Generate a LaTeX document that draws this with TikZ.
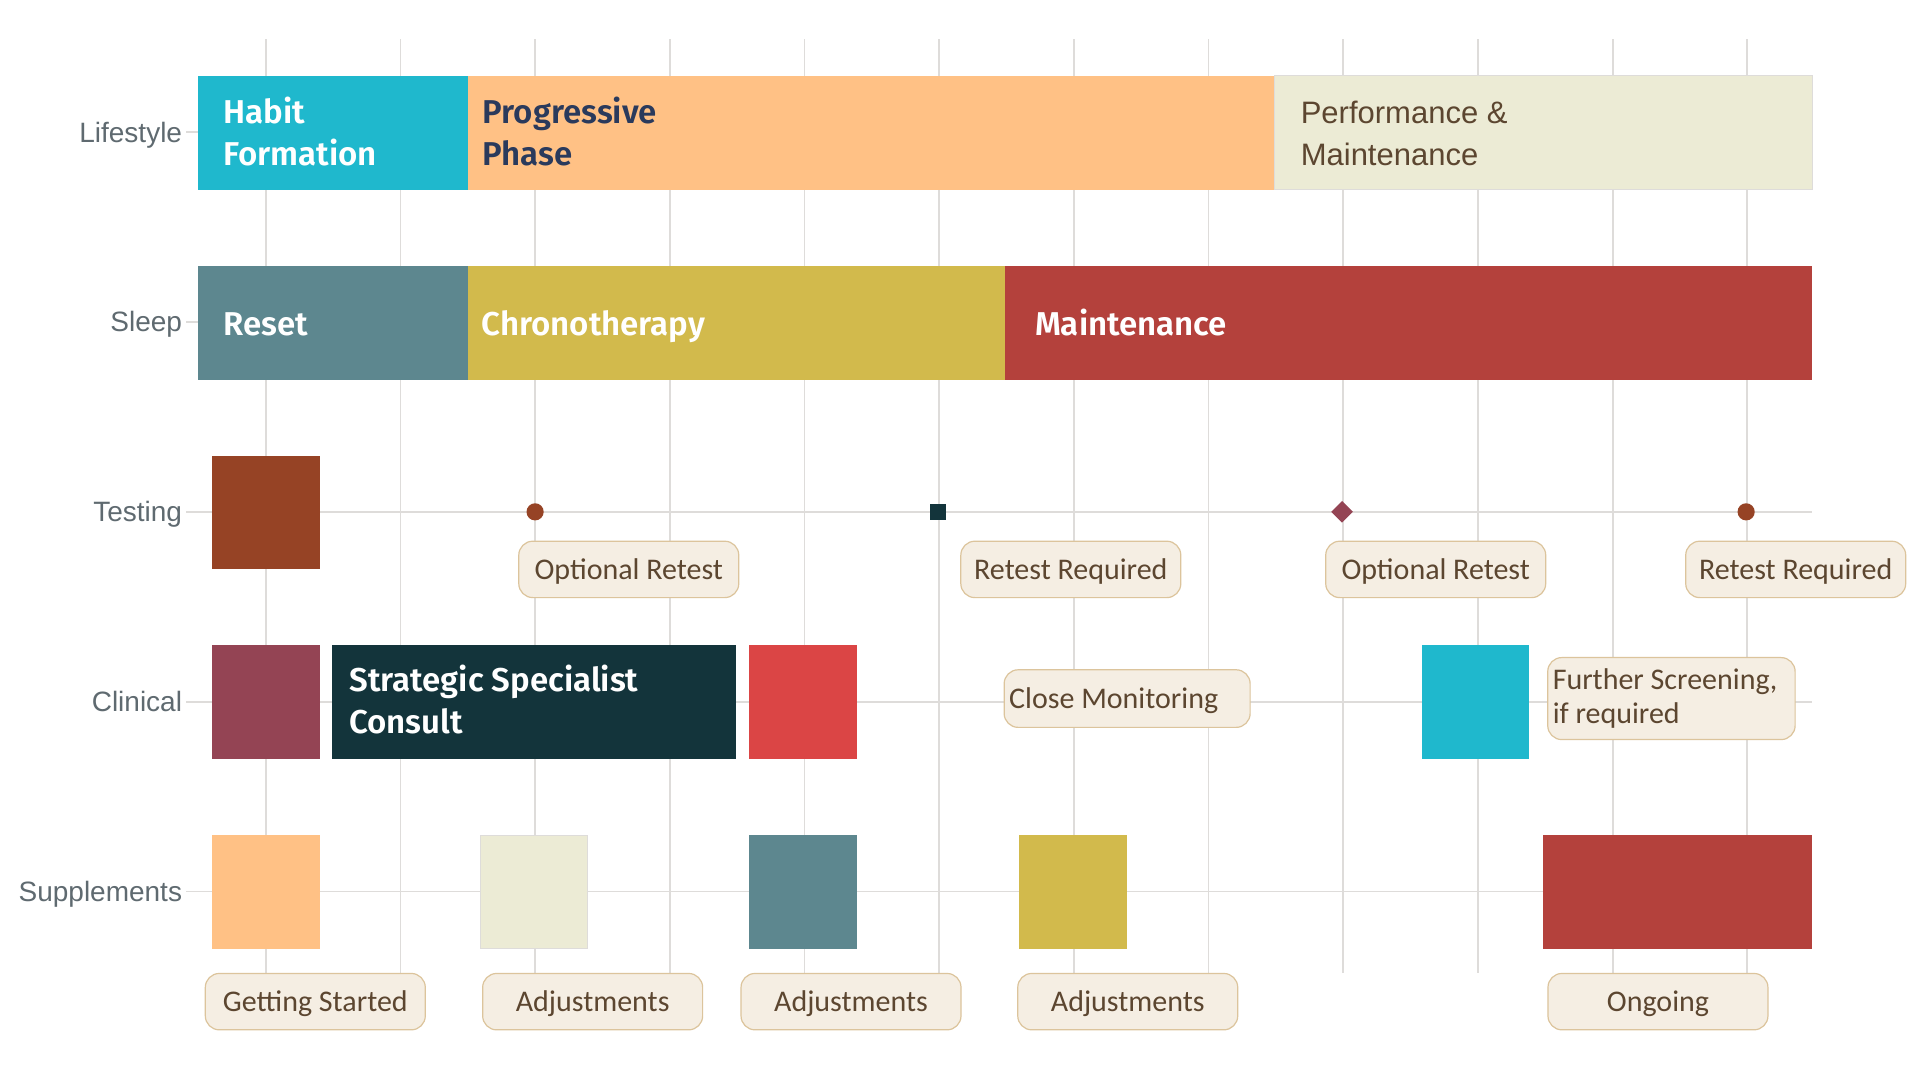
\documentclass[tikz,border=0pt]{standalone}
\usepackage{fontspec}
\setmainfont{Carlito}
\newfontfamily\barfont{Fira Sans}[BoldFont={Fira Sans SemiBold}]
\newfontfamily\axisfont{Liberation Sans}
\usetikzlibrary{shapes.geometric}
\definecolor{cteal}{HTML}{1FB8CD}
\definecolor{cpeach}{HTML}{FFC185}
\definecolor{ccream}{HTML}{ECEBD5}
\definecolor{cslate}{HTML}{5D878F}
\definecolor{cmustard}{HTML}{D2BA4C}
\definecolor{cred}{HTML}{B4413C}
\definecolor{cbrown}{HTML}{964325}
\definecolor{cmaroon}{HTML}{944454}
\definecolor{cdark}{HTML}{13343B}
\definecolor{ccoral}{HTML}{DB4545}
\definecolor{cgrid}{HTML}{DEDCDA}
\definecolor{caxis}{HTML}{5F6A70}
\definecolor{cnavy}{HTML}{2A3A5C}
\definecolor{clbltext}{HTML}{5C4630}
\definecolor{clblfill}{HTML}{F5EEE3}
\definecolor{clbldraw}{HTML}{DCC49C}
\tikzset{
  gridline/.style={draw=cgrid, line width=0.9pt},
  rowlab/.style={anchor=base east, inner sep=0pt, text=caxis, font={\axisfont\fontsize{14}{16}\selectfont}},
  bartext/.style={anchor=base west, inner sep=0pt, align=left, text=white, font={\barfont\bfseries\fontsize{16.5}{20.8}\selectfont}},
  lblbase/.style={draw=clbldraw, fill=clblfill, line width=0.6pt, rounded corners=7pt, text=clbltext,
     font={\fontsize{15}{17}\selectfont}, minimum width=110pt, minimum height=28.2pt, inner sep=0pt},
  lbl/.style={lblbase, text height=9.7pt, text depth=0pt},
  dotmark/.style={circle, fill=cbrown, minimum size=8.6pt, inner sep=0pt},
  sqmark/.style={rectangle, fill=cdark, minimum size=8pt, inner sep=0pt},
  dmmark/.style={diamond, fill=cmaroon, minimum size=11pt, aspect=1, inner sep=0pt}
}
\begin{document}
\begin{tikzpicture}[x=0.6123pt,y=-0.6123pt]
\useasboundingbox[fill=white] (0,0) rectangle (1568,882);
% grid
\foreach \gx in {217,327,437,547,657,767,877,987,1097,1207,1317,1427}
  \draw[gridline] (\gx,32) -- (\gx,795);
\foreach \gy in {108,263,418,573,728}
  \draw[gridline] (152,\gy) -- (1480,\gy);
% row labels
\node[rowlab] (rLife) at (149,116) {Lifestyle};
\node[rowlab] (rSleep) at (149,271) {Sleep};
\node[rowlab] (rTest) at (149,426) {Testing};
\node[rowlab] (rClin) at (149,581) {Clinical};
\node[rowlab] (rSupp) at (149,736) {Supplements};
% Lifestyle
\fill[cteal] (162,62) rectangle (382,155);
\fill[cpeach] (382,62) rectangle (1041,155);
\fill[ccream] (1041,62) rectangle (1480,155);
\draw[cgrid, line width=0.5pt] (1041,62) rectangle (1480,155);
\node[bartext] (tHabit) at (182,135) {Habit\\Formation};
\node[bartext, text=cnavy] (tProg) at (394,135) {Progressive\\Phase};
\node[bartext, text=clbltext, font={\axisfont\fontsize{15.5}{20.8}\selectfont}] (tPerf) at (1062,135) {Performance \&\\Maintenance};
% Sleep
\fill[cslate] (162,217) rectangle (382,310);
\fill[cmustard] (382,217) rectangle (821,310);
\fill[cred] (821,217) rectangle (1480,310);
\node[bartext] (tReset) at (182,274) {Reset};
\node[bartext] (tChrono) at (393,274) {Chronotherapy};
\node[bartext] (tMaint) at (845,274) {Maintenance};
% Testing
\fill[cbrown] (173,372) rectangle (261,465);
\node[dotmark] (m1) at (437,418) {};
\node[sqmark] (m2) at (766,418) {};
\node[dmmark] (m3) at (1096,418) {};
\node[dotmark] (m4) at (1426,418) {};
\node[lbl] (l1) at (513.5,465) {Optional Retest};
\node[lbl] (l2) at (874.5,465) {Retest Required};
\node[lbl] (l3) at (1172.5,465) {Optional Retest};
\node[lbl] (l4) at (1466.5,465) {Retest Required};
% Clinical
\fill[cmaroon] (173,527) rectangle (261,620);
\fill[cdark] (271,527) rectangle (601,620);
\fill[ccoral] (612,527) rectangle (700,620);
\fill[cteal] (1161,527) rectangle (1249,620);
\node[bartext] (tStrat) at (285,599) {Strategic Specialist\\Consult};
\node[lbl, align=flush left, inner xsep=2.5pt, text width=118pt, minimum height=28.8pt] (l5) at (920.5,570.5) {Close Monitoring};
\node[lblbase, align=flush left, inner xsep=2.5pt, text width=118.7pt, minimum height=41pt, font={\fontsize{15}{17.2}\selectfont}] (l6) at (1365,570.5) {Further Screening,\\if required};
% Supplements
\fill[cpeach] (173,682) rectangle (261,775);
\fill[ccream] (392,682) rectangle (480,775);
\draw[cgrid, line width=0.5pt] (392,682) rectangle (480,775);
\fill[cslate] (612,682) rectangle (700,775);
\fill[cmustard] (832,682) rectangle (920,775);
\fill[cred] (1260,682) rectangle (1480,775);
\node[lbl] (l7) at (257.5,818) {Getting Started};
\node[lbl] (l8) at (484,818) {Adjustments};
\node[lbl] (l9) at (695,818) {Adjustments};
\node[lbl] (l10) at (921,818) {Adjustments};
\node[lbl] (l11) at (1354,818) {Ongoing};
\end{tikzpicture}
\end{document}
